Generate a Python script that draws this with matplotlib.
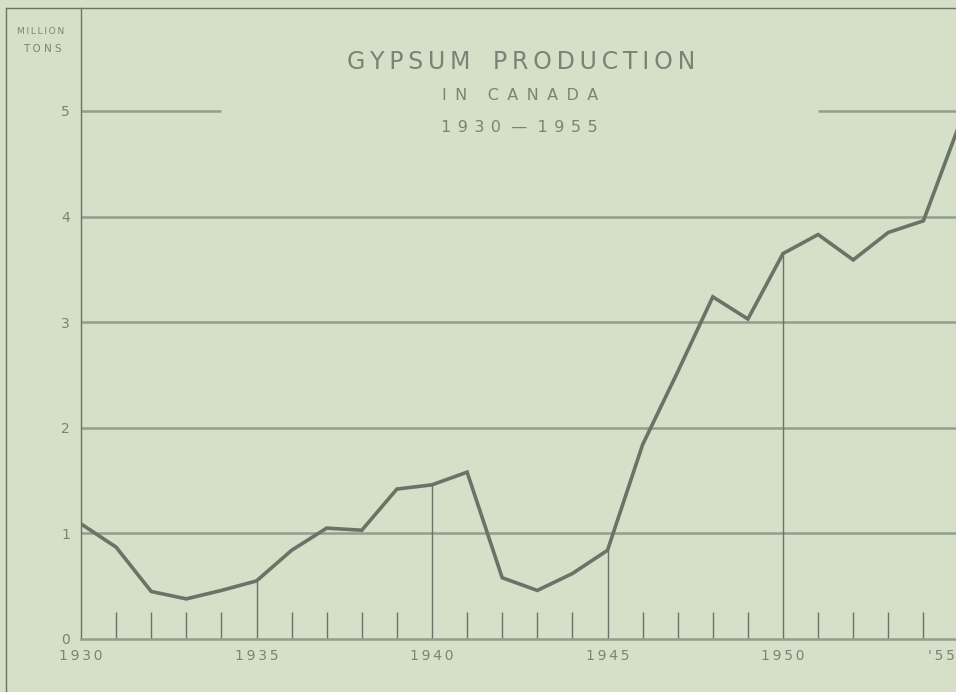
import numpy as np
import matplotlib.pyplot as plt
from matplotlib.lines import Line2D
from matplotlib.transforms import ScaledTranslation

# DATA (million tons)
years = list(range(1930, 1956))
production = [1.09, 0.87, 0.45, 0.38, 0.46, 0.55, 0.84, 1.05, 1.03, 1.42,
              1.46, 1.58, 0.58, 0.46, 0.62, 0.84, 1.84, 2.53, 3.24, 3.03,
              3.65, 3.83, 3.59, 3.85, 3.96, 4.85]
major_years = [1935, 1940, 1945, 1950]
xtick_years = [1930, 1935, 1940, 1945, 1950, 1955]
xtick_labels = ['1930', '1935', '1940', '1945', '1950', "'55"]
yticks = [0, 1, 2, 3, 4, 5]

BG = '#d6dfc7'
LINE = '#6a7367'
GRID = '#939d90'
TEXT = '#7a8377'


def spaced(s, gap='\u2009'):
    # fake letter spacing
    return gap.join(s)


fig = plt.figure(figsize=(9.56, 6.92), dpi=100, facecolor=BG)
W, H = 956, 692
ax = fig.add_axes([81 / W, 53 / H, (958.5 - 81) / W, (639 - 8) / H])
ax.set_facecolor(BG)
ax.set_xlim(1930, 1955)
ax.set_ylim(0, 631 / 105.6)

# grid
ax.hlines([1, 2, 3, 4], 1930, 1955, color=GRID, lw=1.8, zorder=1)
ax.hlines(5, 1930, 1934, color=GRID, lw=1.8, zorder=1)
ax.hlines(5, 1951, 1955, color=GRID, lw=1.8, zorder=1)

# small year ticks and full lines every 5 years
minor = [y for y in years[1:-1] if y not in major_years]
ax.vlines(minor, 0, 0.26, color=LINE, lw=1, zorder=2)
ax.vlines(major_years, 0, [production[years.index(y)] for y in major_years],
          color=LINE, lw=1, zorder=2)

ax.plot(years, production, color=LINE, lw=2.6, solid_joinstyle='miter', zorder=3)

for s in ['top', 'right']:
    ax.spines[s].set_visible(False)
ax.spines['left'].set_color(LINE)
ax.spines['left'].set_linewidth(1)
ax.spines['bottom'].set_color(GRID)
ax.spines['bottom'].set_linewidth(1.8)

ax.set_yticks(yticks)
ax.set_yticklabels([str(v) for v in yticks])
ax.set_xticks(xtick_years)
ax.set_xticklabels([spaced(t) for t in xtick_labels])
ax.tick_params(axis='both', length=0, colors=TEXT, labelsize=10)
ax.tick_params(axis='y', pad=8)
ax.tick_params(axis='x', pad=7)
last = ax.get_xticklabels()[-1]
last.set_ha('right')
last.set_transform(last.get_transform() + ScaledTranslation(-4 / 100, 0, fig.dpi_scale_trans))

# outer frame
fig.add_artist(Line2D([6 / W, 6 / W], [0, 1 - 8 / H], transform=fig.transFigure,
                      color=LINE, lw=1))
fig.add_artist(Line2D([6 / W, 1], [1 - 8 / H, 1 - 8 / H], transform=fig.transFigure,
                      color=LINE, lw=1))

# unit label
fig.text(41 / W, 1 - 32 / H, spaced('MILLION'), ha='center', va='center',
         fontsize=6.5, color=TEXT)
fig.text(42 / W, 1 - 49 / H, spaced('TONS', ' '), ha='center', va='center',
         fontsize=7.5, color=TEXT)

# titles
fig.text(521 / W, 1 - 62 / H, spaced('GYPSUM') + '   ' + spaced('PRODUCTION'),
         ha='center', va='center', fontsize=17, color=TEXT)
fig.text(520 / W, 1 - 96 / H, spaced('IN', ' \u2009') + '    ' + spaced('CANADA', ' \u2009'),
         ha='center', va='center', fontsize=11.5, color=TEXT)
fig.text(519 / W, 1 - 127 / H, spaced('1930', '\u2009\u2009') + '  \u2014  ' + spaced('1955', '\u2009\u2009'),
         ha='center', va='center', fontsize=11.5, color=TEXT)

fig.savefig('out.png', dpi=100, facecolor=BG)
